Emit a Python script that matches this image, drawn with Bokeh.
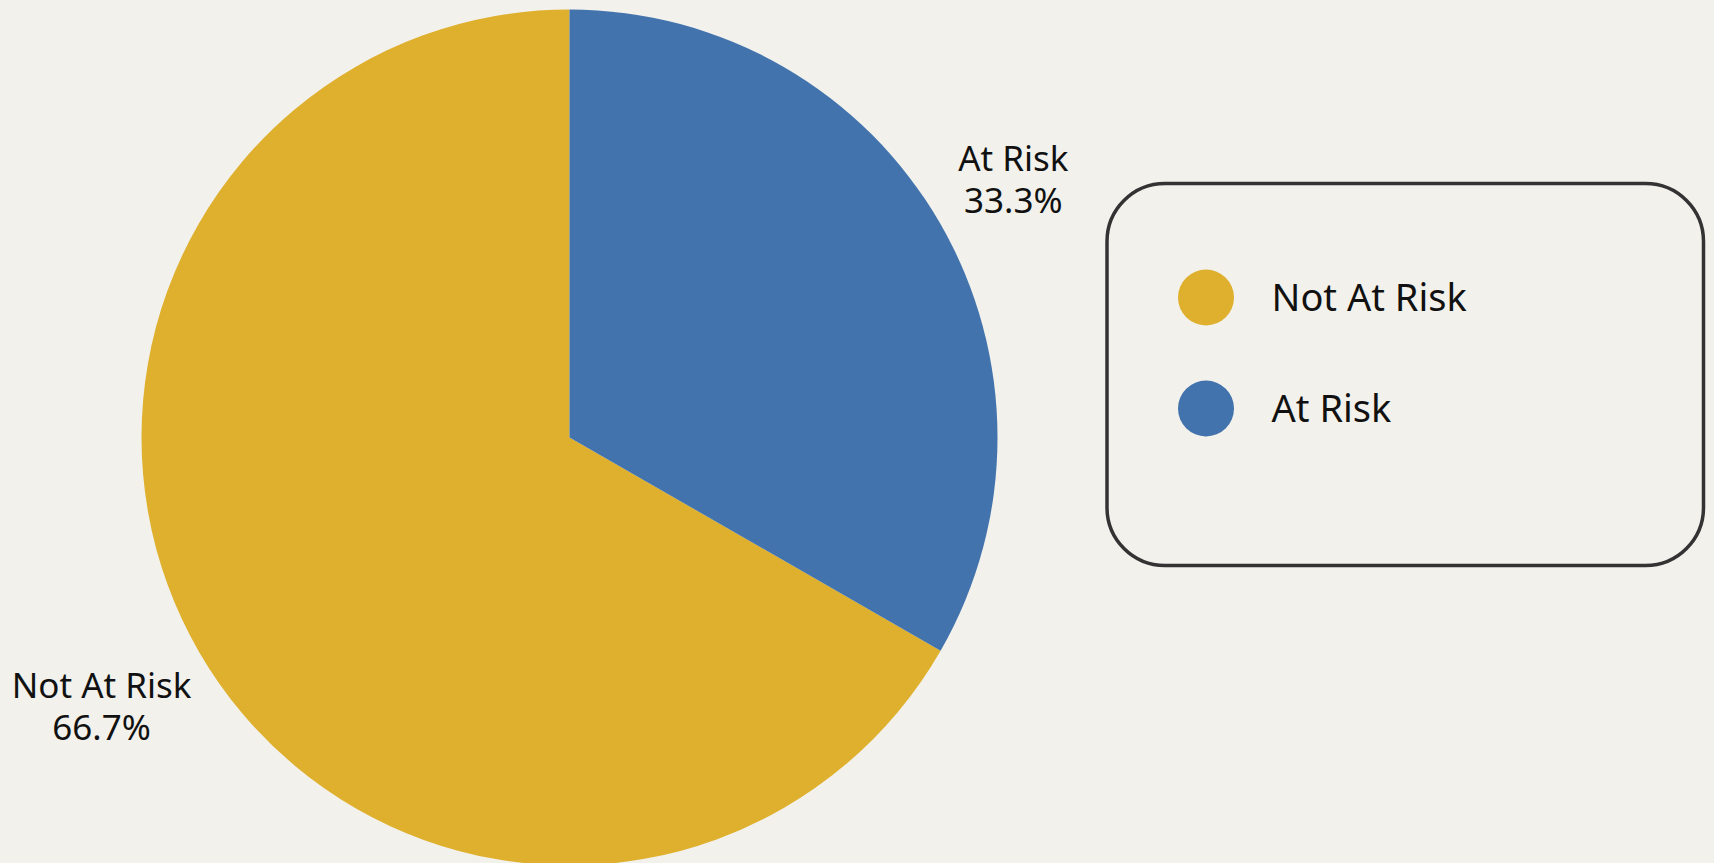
import math
from bokeh.plotting import figure
from bokeh.models import ColumnDataSource, Range1d, BoxAnnotation
from bokeh.core.properties import value
from bokeh.embed import file_html
from bokeh.resources import INLINE

# ---- data ----
categories = ["Not At Risk", "At Risk"]
shares = [66.7, 33.3]
colors = ["#DFB02D", "#4273AD"]

# ---- layout / style ----
W, H = 1714, 863
BG = "#F2F1EC"
FONT = "Noto Sans"
TXT = "#111111"
CX, CY, R = 569, 426, 428
LABEL_FS = 35
LEGEND_FS = 38
TEXT_SHIFT = 15

p = figure(width=W, height=H, x_range=Range1d(0, W), y_range=Range1d(0, H),
           output_backend="svg", toolbar_location=None, min_border=0,
           x_axis_type=None, y_axis_type=None,
           background_fill_color=BG, border_fill_color=BG, outline_line_color=None)
p.grid.visible = False

total = sum(shares)
starts, ends, mids = [], [], []
acc = 0.0
for s in shares:
    a0 = math.pi / 2 + 2 * math.pi * acc / total
    acc += s
    a1 = math.pi / 2 + 2 * math.pi * acc / total
    starts.append(a0)
    ends.append(a1)
    mids.append((a0 + a1) / 2)

src = ColumnDataSource(dict(cat=categories, share=shares, color=colors,
                            start=starts, end=ends))
p.wedge(x=CX, y=CY, radius=R, start_angle="start", end_angle="end",
        direction="anticlock", fill_color="color", line_color=None, source=src)

# ---- slice labels ----
lx, ly, ltxt = [], [], []
for cat, s, m in zip(categories, shares, mids):
    w = max(len(cat), 5) * LABEL_FS * 0.46
    rr = R + 36 + 0.5 * w * abs(math.cos(m))
    bx = CX + rr * math.cos(m)
    by = CY + rr * math.sin(m)
    lx += [bx, bx]
    ly += [by + 8.5 + TEXT_SHIFT, by - 33.5 + TEXT_SHIFT]
    ltxt += [cat, f"{s:.1f}%"]
p.text(x=lx, y=ly, text=ltxt, text_align="center", text_baseline="alphabetic",
       text_font=value(FONT), text_font_size=f"{LABEL_FS}px", text_color=TXT)

# ---- legend ----
BOX_L, BOX_R, BOX_T, BOX_B = 1106.5, 1703, 680, 298
box = BoxAnnotation(left=BOX_L, right=BOX_R, top=BOX_T, bottom=BOX_B,
                    border_radius=58, fill_alpha=0, line_color="#333333",
                    line_alpha=1.0, line_width=3.5)
p.add_layout(box)

gy = [BOX_T - 114 - i * 111 for i in range(len(categories))]
p.scatter(x=[BOX_L + 99] * len(categories), y=gy, size=56, marker="circle",
          fill_color=colors, line_color=None)
p.text(x=[BOX_L + 164.5] * len(categories), y=[g - 13 + TEXT_SHIFT for g in gy],
       text=categories, text_align="left", text_baseline="alphabetic",
       text_font=value(FONT), text_font_size=f"{LEGEND_FS}px", text_color=TXT)

html = file_html(p, INLINE).replace("<body>", '<body style="background-color:#F2F1EC">')
open("out.html", "w").write(html)
